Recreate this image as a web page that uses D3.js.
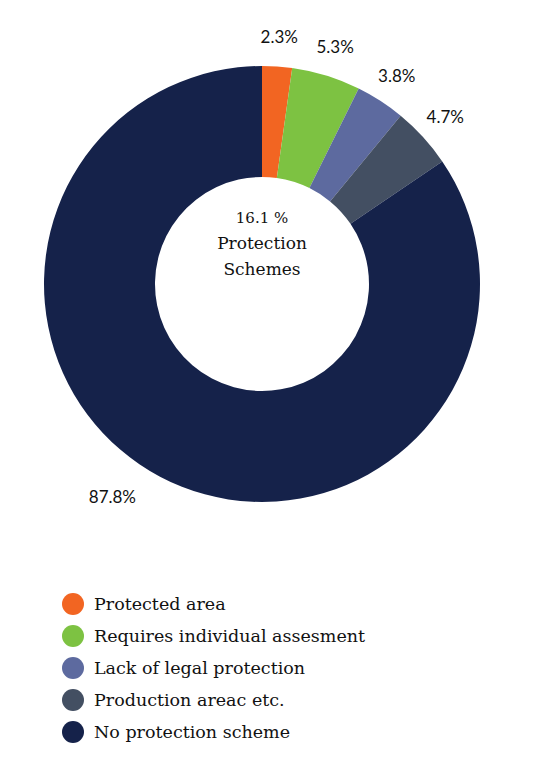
<!DOCTYPE html>
<html>
<head>
<meta charset="utf-8">
<script src="https://cdn.jsdelivr.net/npm/d3@7"></script>
<style>
  body { margin: 0; background: #fff; }
</style>
</head>
<body>
<svg width="540" height="778"></svg>
<script>
var categories = ["Protected area", "Requires individual assesment", "Lack of legal protection", "Production areac etc.", "No protection scheme"];
var values = [2.3, 5.3, 3.8, 4.7, 87.8];
var colors = ["#f26522", "#7dc242", "#5d6a9f", "#434f62", "#15224a"];
var centerLines = ["16.1 %", "Protection", "Schemes"];

var svg = d3.select("svg");
var cx = 262, cy = 284, rOuter = 218, rInner = 107;

var data = categories.map(function(c, i) { return { name: c, value: values[i], color: colors[i] }; });

var pie = d3.pie().sort(null).value(function(d) { return d.value; });
var arc = d3.arc().innerRadius(rInner).outerRadius(rOuter);
var labelArc = d3.arc().innerRadius(248).outerRadius(248);

var g = svg.append("g").attr("transform", "translate(" + cx + "," + cy + ")");
var arcs = pie(data);

g.selectAll("path")
  .data(arcs)
  .enter().append("path")
    .attr("d", arc)
    .attr("fill", function(d) { return d.data.color; });

g.selectAll(".lbl")
  .data(arcs)
  .enter().append("text")
    .attr("class", "lbl")
    .attr("x", function(d) { var x = labelArc.centroid(d)[0]; return x < -50 ? x - 10 : x; })
    .attr("y", function(d) { var y = labelArc.centroid(d)[1]; return y > 100 ? y - 6 : y; })
    .attr("dy", "0.35em")
    .attr("text-anchor", function(d) { return labelArc.centroid(d)[0] < -50 ? "end" : "middle"; })
    .attr("font-family", "Lato, sans-serif")
    .attr("font-size", 17)
    .attr("fill", "#111")
    .text(function(d) { return d.data.value + "%"; });

g.selectAll(".ctr")
  .data(centerLines)
  .enter().append("text")
    .attr("class", "ctr")
    .attr("x", 0)
    .attr("y", function(d, i) { return -66 + i * 25.5; })
    .attr("dy", "0.35em")
    .attr("text-anchor", "middle")
    .attr("font-family", "'DejaVu Serif', serif")
    .attr("font-size", function(d, i) { return i === 0 ? 15 : 17; })
    .attr("fill", "#111")
    .text(function(d) { return d; });

// legend
var legend = svg.append("g").attr("transform", "translate(73,604)");
var item = legend.selectAll("g")
  .data(data)
  .enter().append("g")
    .attr("transform", function(d, i) { return "translate(0," + i * 32 + ")"; });

item.append("circle").attr("r", 11).attr("fill", function(d) { return d.color; });
item.append("text")
  .attr("x", 21)
  .attr("dy", "0.35em")
  .attr("font-family", "'DejaVu Serif', serif")
  .attr("font-size", 17.5)
  .attr("fill", "#111")
  .text(function(d) { return d.name; });
</script>
</body>
</html>
